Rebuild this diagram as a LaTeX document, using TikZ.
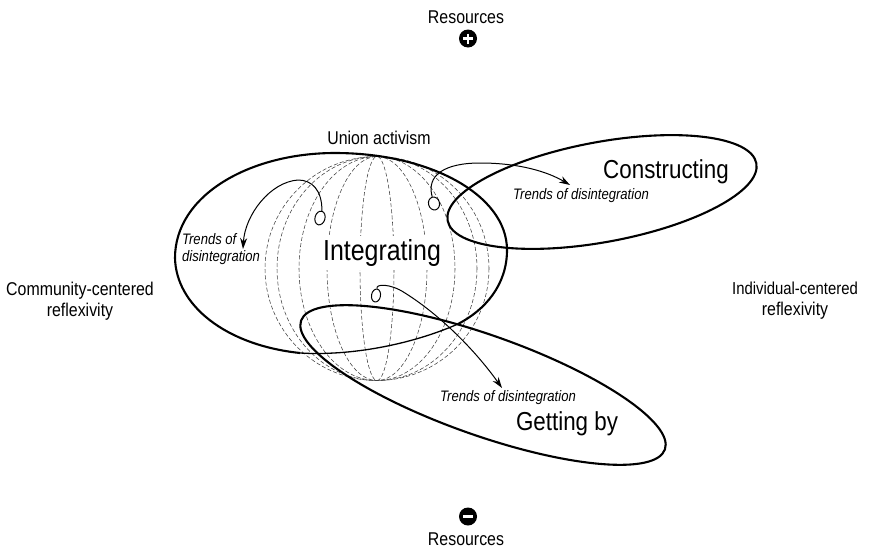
\documentclass[tikz,border=0pt]{standalone}
\usepackage{fontspec}
\setmainfont[FakeStretch=0.86]{Liberation Sans}
\usetikzlibrary{arrows.meta,shapes.geometric}
\tikzset{
 thick line/.style={line width=2.1pt,black},
 merid/.style={line width=0.55pt,dash pattern=on 4pt off 2.2pt,black!75},
 trend/.style={line width=1pt,-{Stealth[length=11pt,width=7pt]}},
 seed/.style={draw,line width=1pt,ellipse,minimum width=10pt,minimum height=14pt,inner sep=0pt},
 tlabel/.style={font=\fontsize{15.2}{17}\selectfont\itshape,align=center,inner sep=0pt},
 label/.style={font=\fontsize{18.5}{21}\selectfont,align=center,inner sep=0pt},
 big/.style={font=\fontsize{26}{30}\selectfont,inner sep=0pt}
}
\begin{document}
\begin{tikzpicture}[x=1pt,y=-1pt]
\useasboundingbox (0,0) rectangle (875,549);
% sphere
\foreach \r in {112,100,78,50,17}{
  \draw[merid] (377,268.5) ellipse [x radius=\r,y radius=112];
}
% Integrating ellipse
\draw[thick line] (300,353) .. controls (225,345) and (176,305) .. (175,258)
  .. controls (175,195) and (250,153) .. (335,153)
  .. controls (430,153) and (507,195) .. (507,250)
  .. controls (507,285) and (485,310) .. (458,324);
\draw[line width=1.3pt] (458,324) .. controls (410,345) and (350,356) .. (300,353);
% Constructing ellipse
\draw[thick line,rotate around={10.5:(602,192)}] (602,192) ellipse [x radius=157,y radius=50];
% Getting by ellipse
\draw[thick line,rotate around={-19.5:(483,385)}] (483,385) ellipse [x radius=193,y radius=50];
% labels
\node[big,font=\fontsize{29}{33}\selectfont,fill=white,inner sep=3pt] (integ) at (382,253) {Integrating};
\node[big] (constr) at (666,172) {Constructing};
\node[big] (getby) at (567,424) {Getting by};
\node[label] (union) at (379,138) {Union activism};
\node[label] (rtop) at (466,17) {Resources};
\node[label] (rbot) at (466,539.5) {Resources};
\node[label] (comm) at (80,301) {Community-centered\\reflexivity};
\node[label] (indiv) at (795,301) {{\fontsize{17.3}{21}\selectfont Individual-centered}\\reflexivity};
\node[tlabel,align=left] (t1) at (221,249) {Trends of\\disintegration};
\node[tlabel] (t2) at (581,196) {Trends of disintegration};
\node[tlabel] (t3) at (508,398) {Trends of disintegration};
% plus / minus
\node[circle,fill=black,minimum size=18pt,inner sep=0pt] (plus) at (468,38.5) {};
\draw[white,line width=2.8pt] (463,38.5) -- (473,38.5) (468,33.5) -- (468,43.5);
\node[circle,fill=black,minimum size=18pt,inner sep=0pt] (minus) at (468,516.5) {};
\draw[white,line width=2.8pt] (463,516.5) -- (473,516.5);
% seeds
\node[seed,rotate=-15] (s1) at (320,218) {};
\node[seed,minimum width=11pt,minimum height=13pt,rotate=15] (s2) at (434,203.5) {};
\node[seed,minimum width=9pt,minimum height=13pt,rotate=-10] (s3) at (376,295.5) {};
% arrows
\coordinate (e1) at (243,249);
\coordinate (e2) at (570,185);
\coordinate (e3) at (502,388);
\draw[trend] (s1.north) .. controls (322,190) and (312,180) .. (298,180)
  .. controls (270,182) and (245,215) .. (e1);
\draw[trend] (s2.north) .. controls (426,175) and (445,163) .. (480,163)
  .. controls (520,163) and (548,172) .. (e2);
\draw[trend] (s3.north) .. controls (375,284) and (390,283) .. (405,293)
  .. controls (440,315) and (475,350) .. (e3);
\end{tikzpicture}
\end{document}
